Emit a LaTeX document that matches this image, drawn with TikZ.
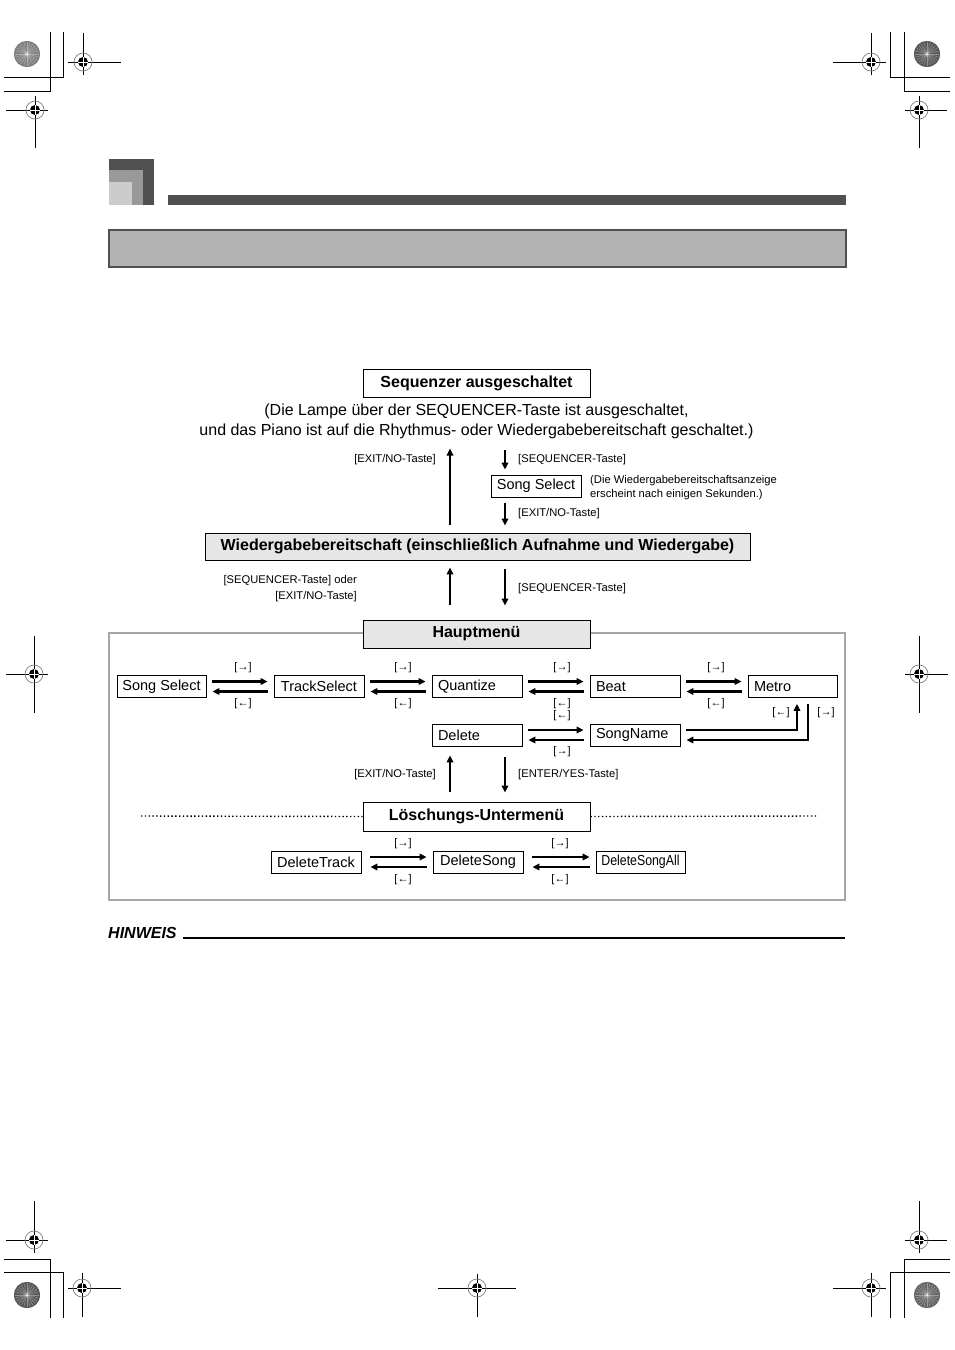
\documentclass[tikz,border=0pt]{standalone}
\usepackage{fontspec}
\setmainfont{Liberation Sans}
\newfontfamily\narrowfont[FakeStretch=0.85]{Liberation Sans}
\usetikzlibrary{arrows.meta,calc}
\definecolor{dk}{HTML}{505050}
\definecolor{mg}{HTML}{999999}
\definecolor{lg}{HTML}{CCCCCC}
\definecolor{hb}{HTML}{B3B3B3}
\definecolor{fl}{HTML}{E6E6E6}
\definecolor{fr}{HTML}{A6A6A6}
\newcommand\regmk[6]{%
 \draw[reg] (#3,#2) -- (#4,#2);
 \draw[reg] (#1,#5) -- (#1,#6);
 \draw[gray,line width=0.7pt] (#1,#2) circle[radius=9pt];
 \fill (#1,#2) circle[radius=5pt];
 \draw[white,line width=0.9pt] (#1-5,#2) -- (#1+5,#2) (#1,#2-5) -- (#1,#2+5);}
\newcommand\grdisc[3]{%
 \fill[black!#3] (#1,#2) circle[radius=13pt];
 \foreach \ang in {0,15,...,345}{\draw[white,opacity=0.35,line width=0.5pt] (#1,#2) -- ++(\ang:12pt);}
 \draw[black!#3,line width=1pt] (#1,#2) circle[radius=12.5pt];}
\tikzset{
 reg/.style={line width=1pt},
 arr/.style={line width=2.2pt,-{Triangle[length=7pt,width=6.5pt]}},
 bigbox/.style={draw,line width=0.9pt,inner sep=0pt,minimum width=227pt,minimum height=28pt,font=\fontsize{16}{19}\selectfont\bfseries},
 box/.style={draw,line width=0.8pt,inner sep=0pt,minimum height=22pt,minimum width=90pt,font=\fontsize{14.5}{17}\selectfont},
 lbox/.style={box,text width=78pt,inner xsep=6pt,align=left,minimum width=0pt},
 sm/.style={inner sep=0pt,font=\fontsize{11.2}{13.5}\selectfont},
 ar/.style={inner sep=0pt,font=\fontsize{11}{13}\selectfont},
}
\begin{document}
\begin{tikzpicture}[x=1pt,y=-1pt]
\useasboundingbox (0,0) rectangle (954,1350);
\fill[white] (0,0) rectangle (954,1350);
% registration marks
\regmk{83}{62}{68}{121}{33}{75}
\regmk{35}{110}{6}{48}{96}{148}
\regmk{871}{62}{833}{886}{33}{75}
\regmk{919}{110}{905}{947}{96}{148}
\regmk{34}{674}{6}{48}{636}{713}
\regmk{919}{674}{905}{948}{636}{713}
\regmk{34}{1240}{6}{48}{1201}{1253}
\regmk{82}{1288}{68}{121}{1273}{1317}
\regmk{477}{1288}{438}{516}{1274}{1317}
\regmk{919}{1240}{905}{947}{1201}{1253}
\regmk{871}{1288}{833}{886}{1273}{1317}
% crop lines
\draw[reg] (50,32)--(50,91)--(4,91) (63,32)--(63,77)--(4,77);
\draw[reg] (890,32)--(890,77)--(950,77) (904,32)--(904,91)--(950,91);
\draw[reg] (4,1259)--(50,1259)--(50,1318) (4,1272)--(63,1272)--(63,1318);
\draw[reg] (950,1259)--(904,1259)--(904,1318) (950,1272)--(890,1272)--(890,1318);
% gray discs
\grdisc{27}{54}{50}
\grdisc{927}{54}{65}
\grdisc{27}{1295}{65}
\grdisc{927}{1295}{60}
% header
\fill[dk] (109,159) rectangle (154,205);
\fill[mg] (109,170) rectangle (143,205);
\fill[lg] (109,182) rectangle (132,205);
\fill[dk] (168,195) rectangle (846,205);
\draw[dk,fill=hb,line width=1.5pt] (109,230) rectangle (846,267);

% top part
\node[bigbox] (seqoff) at (476.5,383) {Sequenzer ausgeschaltet};
\node[inner sep=0pt,align=center,font=\fontsize{16}{20}\selectfont] (info) at (476.5,421.5)
 {(Die Lampe über der SEQUENCER-Taste ist ausgeschaltet,\\und das Piano ist auf die Rhythmus- oder Wiedergabebereitschaft geschaltet.)};
\node[box] (ss0) at (536,486) {Song Select};
\node[sm,anchor=west,align=left] (note) at (590,487.5) {(Die Wiedergabebereitschaftsanzeige\\erscheint nach einigen Sekunden.)};
\node[bigbox,fill=fl,minimum width=545pt,minimum height=27pt] (wb) at (477.5,546.5) {Wiedergabebereitschaft (einschließlich Aufnahme und Wiedergabe)};
\node[sm,anchor=east] (l1) at (436,460) {[EXIT/NO-Taste]};
\node[sm,anchor=west] (l2) at (518,460) {[SEQUENCER-Taste]};
\node[sm,anchor=west] (l3) at (518,514) {[EXIT/NO-Taste]};
\node[sm,anchor=east,align=right,font=\fontsize{11.2}{16}\selectfont] (l4) at (357,589) {[SEQUENCER-Taste] oder\\\relax[EXIT/NO-Taste]};
\node[sm,anchor=west] (l5) at (518,589) {[SEQUENCER-Taste]};
\draw[arr] ($(wb.north)+(-27.5,-8)$) -- ++(0,-76);
\draw[arr] ($(ss0.north)+(-31,-25)$) -- ($(ss0.north)+(-31,-5)$);
\draw[arr] ($(ss0.south)+(-31,6)$) -- ($(wb.north)+(27.5,-7)$);

% frame
\draw[fr,line width=2.5pt] (109,633) rectangle (845,900);
\node[bigbox,fill=fl] (hm) at (476.5,634) {Hauptmenü};
\draw[arr] ($(hm.north)+(-26.5,-15)$) -- ($(wb.south)+(-27.5,7)$);
\draw[arr] ($(wb.south)+(27.5,9)$) -- ($(hm.north)+(28.5,-14)$);

% row 1
\node[box,minimum width=89pt] (a) at (161.5,686.5) {Song Select};
\node[box] (b) at (319,686.5) {TrackSelect};
\node[lbox] (c) at (477,686.5) {Quantize};
\node[lbox] (d) at (635,686.5) {Beat};
\node[lbox,text width=77pt] (e) at (792.5,686.5) {Metro};
% row 2
\node[lbox] (f) at (477,735) {Delete};
\node[lbox] (g) at (635,735) {SongName};

\foreach \p/\q in {a/b,b/c,c/d,d/e,f/g}{
 \draw[arr] ([xshift=6pt,yshift=5pt]\p.east) -- ([xshift=-6pt,yshift=5pt]\q.west);
 \draw[arr] ([xshift=-6pt,yshift=-5pt]\q.west) -- ([xshift=6pt,yshift=-5pt]\p.east);
}
\draw[arr] ([xshift=6pt,yshift=5pt]g.east) -| ([xshift=4.5pt,yshift=-6pt]e.south);
\draw[arr] ([xshift=15.5pt,yshift=-6pt]e.south) |- ([xshift=6pt,yshift=-5pt]g.east);

\node[ar] (r1) at (243,668) {[→]};
\node[ar] (r2) at (243,704) {[←]};
\node[ar] (r3) at (403,668) {[→]};
\node[ar] (r4) at (403,704) {[←]};
\node[ar] (r5) at (562,668) {[→]};
\node[ar] (r6) at (562,704) {[←]};
\node[ar] (r7) at (716,668) {[→]};
\node[ar] (r8) at (716,704) {[←]};
\node[ar] (r9) at (562,716) {[←]};
\node[ar] (r10) at (562,752) {[→]};
\node[ar] (r11) at (781,713) {[←]};
\node[ar] (r12) at (826,713) {[→]};

\node[sm,anchor=east] (l6) at (436,775) {[EXIT/NO-Taste]};
\node[sm,anchor=west] (l7) at (518,775) {[ENTER/YES-Taste]};

% delete submenu
\node[bigbox,fill=white,minimum height=29pt] (lm) at (476.5,816.5) {Löschungs-Untermenü};
\draw[arr] ($(lm.north)+(-26.5,-10)$) -- ($(f.south)+(-27,9)$);
\draw[arr] ($(f.south)+(28,11)$) -- ($(lm.north)+(28.5,-9)$);
\draw[line width=1.4pt,dash pattern=on 1.4pt off 2.4pt] (141,816) -- (lm.west);
\draw[line width=1.4pt,dash pattern=on 1.4pt off 2.4pt] (lm.east) -- (816,816);

\node[box] (h) at (316,862) {DeleteTrack};
\node[box] (i) at (478,862) {DeleteSong};
\node[box,minimum width=89pt,font=\fontsize{14.5}{17}\narrowfont] (j) at (640.5,862) {DeleteSongAll};
\foreach \p/\q in {h/i,i/j}{
 \draw[arr] ([xshift=9pt,yshift=5pt]\p.east) -- ([xshift=-6pt,yshift=5pt]\q.west);
 \draw[arr] ([xshift=-6pt,yshift=-5pt]\q.west) -- ([xshift=9pt,yshift=-5pt]\p.east);
}
\node[ar] (s1) at (403,844) {[→]};
\node[ar] (s2) at (403,880) {[←]};
\node[ar] (s3) at (560,844) {[→]};
\node[ar] (s4) at (560,880) {[←]};

% note
\node[inner sep=0pt,anchor=west,font=\fontsize{16}{18}\selectfont\bfseries\itshape] (hw) at (108,933) {HINWEIS};
\draw[line width=2pt] (183,938) -- (845,938);
\end{tikzpicture}
\end{document}
